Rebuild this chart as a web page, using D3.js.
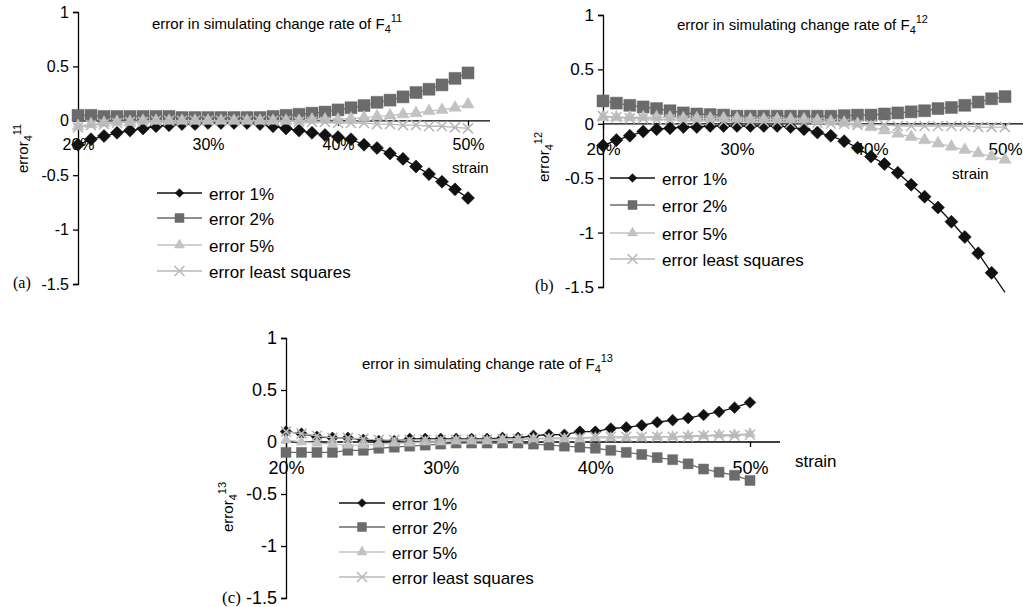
<!DOCTYPE html>
<html>
<head>
<meta charset="utf-8">
<script src="https://cdn.jsdelivr.net/npm/d3@7"></script>
<style>
body { margin: 0; background: #fff; }
svg { display: block; }
text { font-family: "Liberation Sans", Arial, sans-serif; fill: #000; }
</style>
</head>
<body>
<svg id="chart" width="1023" height="607"></svg>
<script>

// strain values (x categories, in %)
var strain = [20,21,22,23,24,25,26,27,28,29,30,31,32,33,34,35,36,37,38,39,40,41,42,43,44,45,46,47,48,49,50];
var xTicks = [20,30,40,50];
var yTicks = [1,0.5,0,-0.5,-1,-1.5];
var seriesNames = ["error 1%","error 2%","error 5%","error least squares"];
var titleText = "error in simulating change rate of F";
var titleSup = ["11","12","13"];
var panelTags = ["(a)","(b)","(c)"];

// (a) error_4^11
var err1A = [-0.22,-0.17,-0.14,-0.11,-0.09,-0.07,-0.05,-0.04,-0.03,-0.03,-0.02,-0.02,-0.02,-0.02,-0.03,-0.05,-0.07,-0.09,-0.11,-0.13,-0.15,-0.17,-0.22,-0.25,-0.30,-0.35,-0.42,-0.49,-0.56,-0.63,-0.71];
var err2A = [0.05,0.05,0.04,0.04,0.04,0.04,0.04,0.04,0.03,0.03,0.03,0.03,0.03,0.03,0.03,0.04,0.05,0.06,0.07,0.08,0.10,0.12,0.14,0.17,0.19,0.22,0.26,0.29,0.33,0.39,0.44];
var err5A = [-0.05,-0.03,-0.02,-0.01,-0.01,0,0,0,0,0,0,0,0,0,0,0,0,0,0.01,0.01,0.01,0.02,0.03,0.04,0.05,0.06,0.07,0.09,0.10,0.12,0.15];
var errLsA = [-0.06,-0.04,-0.03,-0.02,-0.01,-0.01,0,0,0,0,0,0,0,0,0,0,0,-0.01,-0.01,-0.01,-0.02,-0.02,-0.02,-0.03,-0.03,-0.04,-0.04,-0.05,-0.05,-0.06,-0.07];

// (b) error_4^12
var err1B = [-0.20,-0.15,-0.11,-0.07,-0.05,-0.04,-0.03,-0.03,-0.02,-0.02,-0.02,-0.02,-0.02,-0.02,-0.03,-0.05,-0.08,-0.11,-0.16,-0.22,-0.30,-0.37,-0.45,-0.56,-0.67,-0.77,-0.90,-1.04,-1.19,-1.37,-1.55];
var err2B = [0.21,0.19,0.17,0.155,0.14,0.12,0.10,0.09,0.085,0.08,0.07,0.07,0.07,0.07,0.07,0.07,0.07,0.07,0.075,0.08,0.08,0.09,0.10,0.11,0.12,0.14,0.15,0.17,0.20,0.23,0.25];
var err5B = [0.06,0.06,0.06,0.06,0.06,0.06,0.05,0.05,0.05,0.05,0.05,0.04,0.04,0.04,0.04,0.04,0.03,0.02,0.01,0,-0.03,-0.06,-0.09,-0.12,-0.15,-0.18,-0.21,-0.24,-0.27,-0.30,-0.33];
var errLsB = [0.07,0.06,0.05,0.05,0.04,0.04,0.03,0.03,0.03,0.02,0.02,0.02,0.02,0.02,0.01,0.01,0.01,0,0,-0.01,-0.01,-0.01,-0.02,-0.02,-0.02,-0.02,-0.02,-0.02,-0.03,-0.03,-0.03];

// (c) error_4^13
var err1C = [0.10,0.08,0.05,0.04,0.04,0.02,0.01,0.01,0.03,0.03,0.03,0.03,0.03,0.03,0.04,0.04,0.06,0.07,0.07,0.10,0.10,0.13,0.14,0.16,0.19,0.21,0.23,0.26,0.29,0.33,0.38];
var err2C = [-0.10,-0.10,-0.10,-0.10,-0.08,-0.08,-0.06,-0.05,-0.04,-0.03,-0.02,-0.01,-0.01,-0.01,-0.01,-0.01,-0.02,-0.03,-0.04,-0.05,-0.06,-0.08,-0.10,-0.12,-0.15,-0.17,-0.21,-0.26,-0.29,-0.32,-0.37];
var err5C = [0.02,0,-0.01,-0.02,-0.03,-0.03,-0.02,-0.01,-0.01,0,0,0.01,0.01,0.01,0.02,0.02,0.03,0.03,0.03,0.03,0.04,0.04,0.04,0.04,0.05,0.05,0.06,0.06,0.07,0.07,0.08];
var errLsC = [0.10,0.08,0.06,0.04,0.04,0.03,0.02,0.02,0.02,0.02,0.02,0.02,0.02,0.02,0.03,0.03,0.03,0.04,0.04,0.04,0.05,0.05,0.05,0.05,0.05,0.05,0.05,0.06,0.06,0.06,0.07];

//series styles: line colour, marker type
var styles = [
	{ color: "#111111", symbol: d3.symbolSquare, rotate: 45, fill: true },	//diamond
	{ color: "#6b6b6b", symbol: d3.symbolSquare, rotate: 0, fill: true },
	{ color: "#c2c2c2", symbol: d3.symbolTriangle, rotate: 0, fill: true },
	{ color: "#b8b8b8", symbol: d3.symbolX, rotate: 0, fill: false }
];

//layout for each of the three panels
var panels = [
	{ data: [err1A, err2A, err5A, errLsA], x0: 78, x1: 468, xEnd: 490, yTop: 12, yBot: 284,
	  tickFont: 16, tickDrop: 29, sizes: [85, 144, 66, 67],
	  title: [152, 29], yLab: [28, 173], strain: [452, 173, 15],
	  legend: { lx0: 157, lx1: 202, tx: 209, ys: [193, 218, 245, 271] }, tag: [13, 288, 16] },
	{ data: [err1B, err2B, err5B, errLsB], x0: 603, x1: 1005, xEnd: 1023, yTop: 15, yBot: 287,
	  tickFont: 17, tickDrop: 31, sizes: [85, 144, 66, 67],
	  title: [677, 30], yLab: [549, 182], strain: [952, 179, 15],
	  legend: { lx0: 610, lx1: 655, tx: 662, ys: [178, 205, 233, 259] }, tag: [535, 291, 16] },
	{ data: [err1C, err2C, err5C, errLsC], x0: 286, x1: 750, xEnd: 780, yTop: 338, yBot: 598,
	  tickFont: 18, tickDrop: 32, sizes: [68, 100, 50, 67],
	  title: [362, 369], yLab: [233, 532], strain: [795, 467, 17],
	  legend: { lx0: 339, lx1: 385, tx: 392, ys: [503, 527, 552, 577] }, tag: [222, 603, 17] }
];

var legendSizes = [38, 81, 45, 67];

var svg = d3.select("#chart");

panels.forEach(function (p, pi) {

	var g = svg.append("g");

	var x = d3.scaleLinear().domain([strain[0], strain[strain.length - 1]]).range([p.x0, p.x1]);
	var y = d3.scaleLinear().domain([yTicks[yTicks.length - 1], yTicks[0]]).range([p.yBot, p.yTop]);

	//y axis
	var yAxis = g.append("g")
		.attr("transform", "translate(" + p.x0 + ",0)")
		.call(d3.axisLeft(y).tickValues(yTicks).tickSize(5).tickPadding(4)
			.tickFormat(function (d) { return String(d); }));
	yAxis.selectAll("text").attr("font-size", p.tickFont).style("font-family", '"Liberation Sans", Arial, sans-serif');
	yAxis.selectAll("path, line").attr("stroke", "#000").attr("stroke-width", 1.3);

	//x axis on the zero line, extends past 50%
	var xAxis = g.append("g")
		.attr("transform", "translate(0," + y(0) + ")")
		.call(d3.axisBottom(x).tickValues(xTicks).tickSize(5).tickSizeOuter(0)
			.tickPadding(p.tickDrop - 5 - 0.71 * p.tickFont)
			.tickFormat(function (d) { return d + "%"; }));
	xAxis.select(".domain").remove();
	xAxis.append("line").attr("x1", p.x0).attr("x2", p.xEnd)
		.attr("stroke", "#000").attr("stroke-width", 1.3);
	xAxis.selectAll("line").attr("stroke", "#000").attr("stroke-width", 1.3);
	xAxis.selectAll("text").attr("font-size", p.tickFont).style("font-family", '"Liberation Sans", Arial, sans-serif');

	//series lines and markers
	var line = d3.line()
		.x(function (d, i) { return x(strain[i]); })
		.y(function (d) { return y(d); });

	p.data.forEach(function (vals, si) {
		var st = styles[si];
		g.append("path")
			.attr("d", line(vals))
			.attr("fill", "none")
			.attr("stroke", st.color)
			.attr("stroke-width", 1.3);

		var sym = d3.symbol(st.symbol, p.sizes[si]);
		g.append("g").selectAll("path")
			.data(vals.map(function (v, i) { return { x: strain[i], v: v }; })
				.filter(function (d) { return d.v >= y.domain()[0]; }))
			.enter()
			.append("path")
			.attr("d", sym)
			.attr("transform", function (d) {
				return "translate(" + x(d.x) + "," + y(d.v) + ") rotate(" + st.rotate + ")";
			})
			.attr("fill", st.fill ? st.color : "none")
			.attr("stroke", st.color)
			.attr("stroke-width", st.fill ? 0.5 : 1.6);
	});

	//title
	var t = g.append("text")
		.attr("x", p.title[0]).attr("y", p.title[1])
		.attr("font-size", 15)
		.text(titleText);
	t.append("tspan").attr("font-size", 11).attr("dy", 4).text("4");
	t.append("tspan").attr("font-size", 11).attr("dy", -11).text(titleSup[pi]);

	//y label, rotated
	var yl = g.append("text")
		.attr("transform", "translate(" + p.yLab[0] + "," + p.yLab[1] + ") rotate(-90)")
		.attr("font-size", 15)
		.text("error");
	yl.append("tspan").attr("font-size", 11).attr("dy", 4).text("4");
	yl.append("tspan").attr("font-size", 11).attr("dy", -11).text(titleSup[pi]);

	//x label
	g.append("text")
		.attr("x", p.strain[0]).attr("y", p.strain[1])
		.attr("font-size", p.strain[2])
		.text("strain");

	//panel tag
	g.append("text")
		.attr("x", p.tag[0]).attr("y", p.tag[1])
		.attr("font-size", p.tag[2])
		.style("font-family", '"Liberation Serif", "Times New Roman", serif')
		.text(panelTags[pi]);

	//legend
	var lg = g.append("g");
	seriesNames.forEach(function (name, si) {
		var st = styles[si];
		var ly = p.legend.ys[si];
		lg.append("line")
			.attr("x1", p.legend.lx0).attr("x2", p.legend.lx1)
			.attr("y1", ly).attr("y2", ly)
			.attr("stroke", st.color).attr("stroke-width", 1.5);
		lg.append("path")
			.attr("d", d3.symbol(st.symbol, legendSizes[si]))
			.attr("transform", "translate(" + (p.legend.lx0 + p.legend.lx1) / 2 + "," + ly + ") rotate(" + st.rotate + ")")
			.attr("fill", st.fill ? st.color : "none")
			.attr("stroke", st.color)
			.attr("stroke-width", st.fill ? 0.5 : 1.5);
		lg.append("text")
			.attr("x", p.legend.tx).attr("y", ly + 1)
			.attr("dominant-baseline", "central")
			.attr("font-size", 17)
			.text(name);
	});
});

</script>
</body>
</html>
